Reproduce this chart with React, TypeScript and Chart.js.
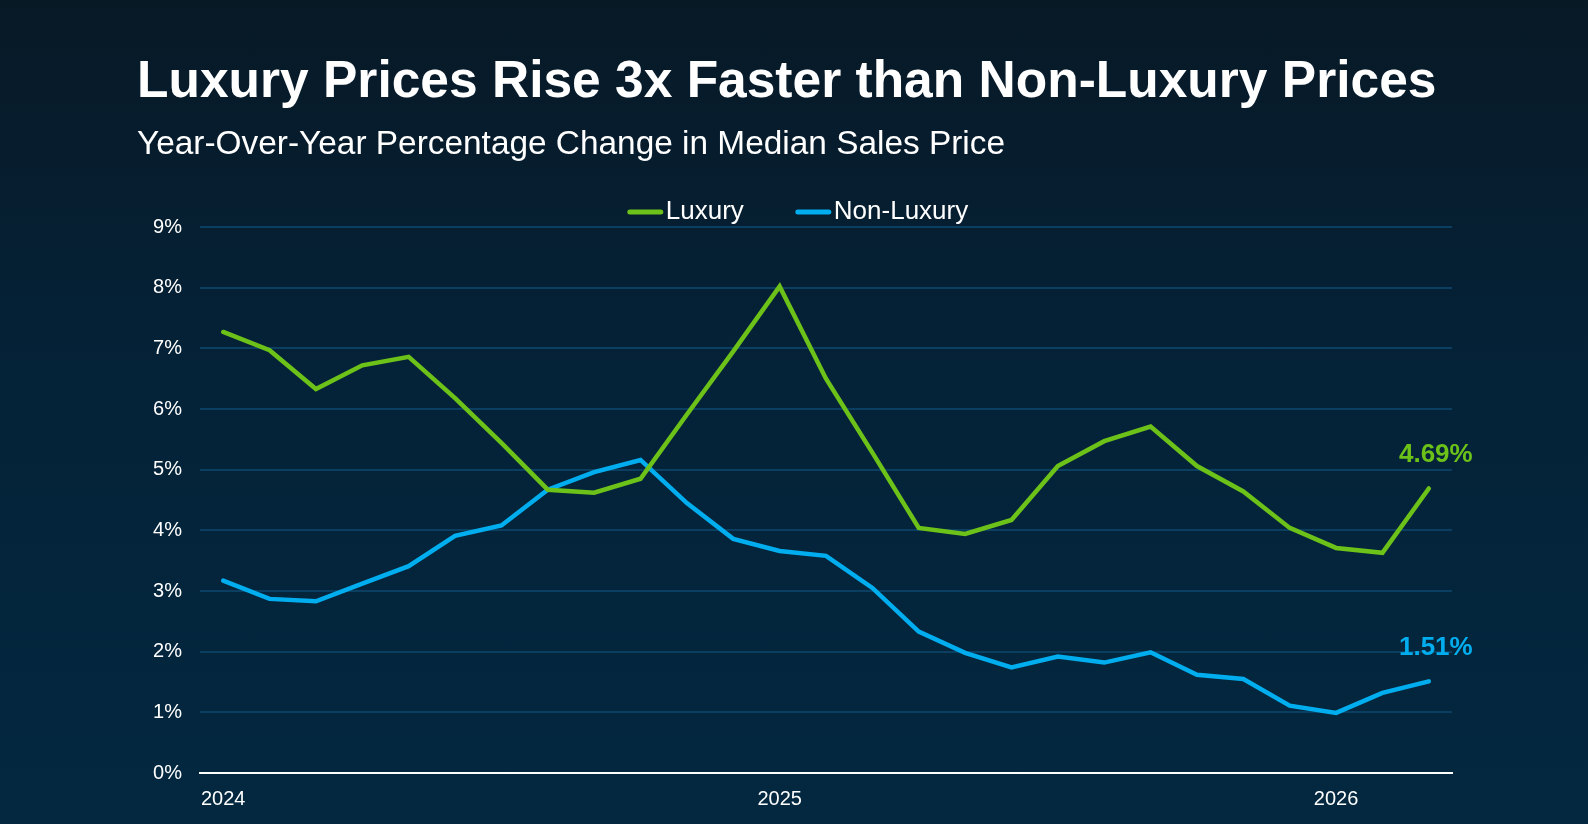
import React, { useEffect, useRef } from "react";
import { Chart, registerables } from "chart.js";

Chart.register(...registerables);

// Monthly reporting periods
const months = [
  "Jan 2024", "Feb 2024", "Mar 2024", "Apr 2024", "May 2024", "Jun 2024",
  "Jul 2024", "Aug 2024", "Sep 2024", "Oct 2024", "Nov 2024", "Dec 2024",
  "Jan 2025", "Feb 2025", "Mar 2025", "Apr 2025", "May 2025", "Jun 2025",
  "Jul 2025", "Aug 2025", "Sep 2025", "Oct 2025", "Nov 2025", "Dec 2025",
  "Jan 2026", "Feb 2026", "Mar 2026",
];

// Year-over-year change in median sales price (%)
const luxury = [
  7.27, 6.97, 6.33, 6.72, 6.86, 6.18, 5.44, 4.67, 4.62, 4.85, 5.91, 6.95,
  8.02, 6.5, 5.28, 4.04, 3.94, 4.17, 5.06, 5.47, 5.71, 5.06, 4.64, 4.04,
  3.71, 3.63, 4.69,
];
const nonLuxury = [
  3.17, 2.87, 2.83, 3.12, 3.41, 3.91, 4.08, 4.67, 4.96, 5.16, 4.45, 3.86,
  3.66, 3.58, 3.05, 2.33, 1.98, 1.74, 1.92, 1.82, 1.99, 1.62, 1.55, 1.11,
  0.99, 1.32, 1.51,
];

const yTicks = [0, 1, 2, 3, 4, 5, 6, 7, 8, 9];

const TITLE = "Luxury Prices Rise 3x Faster than Non-Luxury Prices";
const SUBTITLE = "Year-Over-Year Percentage Change in Median Sales Price";

const GREEN = "#6cc218";
const BLUE = "#00aeef";
const FONT = '"Liberation Sans", Arial, Helvetica, sans-serif';

const W = 1588;
const H = 824;

// Headings, legend and end-of-line value labels
const decorations = {
  id: "decorations",
  afterDraw(chart: any) {
    const ctx = chart.ctx as CanvasRenderingContext2D;
    ctx.save();
    ctx.fillStyle = "#ffffff";
    ctx.textAlign = "left";
    ctx.textBaseline = "alphabetic";
    ctx.font = `bold 51.5px ${FONT}`;
    ctx.fillText(TITLE, 137, 97);
    ctx.font = `33.4px ${FONT}`;
    ctx.fillText(SUBTITLE, 137, 154);

    // legend
    ctx.font = `26px ${FONT}`;
    const items = chart.data.datasets.map((d: any) => ({
      label: d.label,
      color: d.borderColor,
    }));
    const lineW = 35;
    const gapText = 3;
    const gapItem = 52;
    const widths = items.map((it: any) => lineW + gapText + ctx.measureText(it.label).width);
    const total = widths.reduce((a: number, b: number) => a + b, 0) + gapItem * (items.length - 1);
    let x = 798 - total / 2;
    const ly = 212;
    items.forEach((it: any, i: number) => {
      ctx.strokeStyle = it.color;
      ctx.lineWidth = 5;
      ctx.lineCap = "round";
      ctx.beginPath();
      ctx.moveTo(x + 2, ly);
      ctx.lineTo(x + lineW - 2, ly);
      ctx.stroke();
      ctx.fillStyle = "#ffffff";
      ctx.textBaseline = "middle";
      ctx.fillText(it.label, x + lineW + gapText, ly);
      x += widths[i] + gapItem;
    });

    // value labels at the last point of each series
    ctx.font = `bold 26px ${FONT}`;
    ctx.textAlign = "center";
    ctx.textBaseline = "middle";
    chart.data.datasets.forEach((d: any, i: number) => {
      const meta = chart.getDatasetMeta(i);
      const last = meta.data[meta.data.length - 1];
      const v = d.data[d.data.length - 1];
      ctx.fillStyle = d.borderColor;
      ctx.fillText(`${v.toFixed(2)}%`, last.x + 7, last.y - 34);
    });
    ctx.restore();
  },
};

export default function App() {
  const ref = useRef<HTMLCanvasElement | null>(null);

  useEffect(() => {
    document.body.style.margin = "0";
    const canvas = ref.current;
    if (!canvas) return;
    const chart = new Chart(canvas, {
      type: "line",
      data: {
        labels: months,
        datasets: [
          {
            label: "Luxury",
            data: luxury,
            borderColor: GREEN,
            backgroundColor: GREEN,
            borderWidth: 4.5,
            pointRadius: 0,
            tension: 0,
            borderCapStyle: "round",
            borderJoinStyle: "miter",
          },
          {
            label: "Non-Luxury",
            data: nonLuxury,
            borderColor: BLUE,
            backgroundColor: BLUE,
            borderWidth: 4.5,
            pointRadius: 0,
            tension: 0,
            borderCapStyle: "round",
            borderJoinStyle: "miter",
          },
        ],
      },
      options: {
        responsive: false,
        animation: false,
        devicePixelRatio: 1,
        layout: { padding: { top: 227, right: 136, bottom: 0, left: 0 } },
        plugins: {
          legend: { display: false },
          title: { display: false },
          tooltip: { enabled: false },
        },
        scales: {
          x: {
            type: "category",
            offset: true,
            grid: { display: false, drawTicks: false },
            border: { display: true, color: "#ffffff", width: 2 },
            afterFit: (s: any) => {
              s.height = 51;
            },
            ticks: {
              autoSkip: false,
              maxRotation: 0,
              padding: 14,
              color: "#ffffff",
              font: { family: FONT, size: 20 },
              callback: (_v: any, i: number) =>
                months[i].startsWith("Jan") ? months[i].slice(4) : "",
            },
          },
          y: {
            min: 0,
            max: 9,
            afterBuildTicks: (s: any) => {
              s.ticks = yTicks.map((v) => ({ value: v }));
            },
            afterFit: (s: any) => {
              s.width = 200;
            },
            grid: {
              drawTicks: false,
              lineWidth: 2,
              color: (c: any) => (c.tick && c.tick.value === 0 ? "rgba(0,0,0,0)" : "#0b3f62"),
            },
            border: { display: false },
            ticks: {
              padding: 18,
              color: "#ffffff",
              font: { family: FONT, size: 20 },
              callback: (v: any) => `${v}%`,
            },
          },
        },
      },
      plugins: [decorations],
    });
    return () => chart.destroy();
  }, []);

  return (
    <div
      style={{
        width: W,
        height: H,
        background: "linear-gradient(180deg, #081926 0%, #042238 45%, #032840 100%)",
      }}
    >
      <canvas ref={ref} width={W} height={H} style={{ display: "block" }} />
    </div>
  );
}
